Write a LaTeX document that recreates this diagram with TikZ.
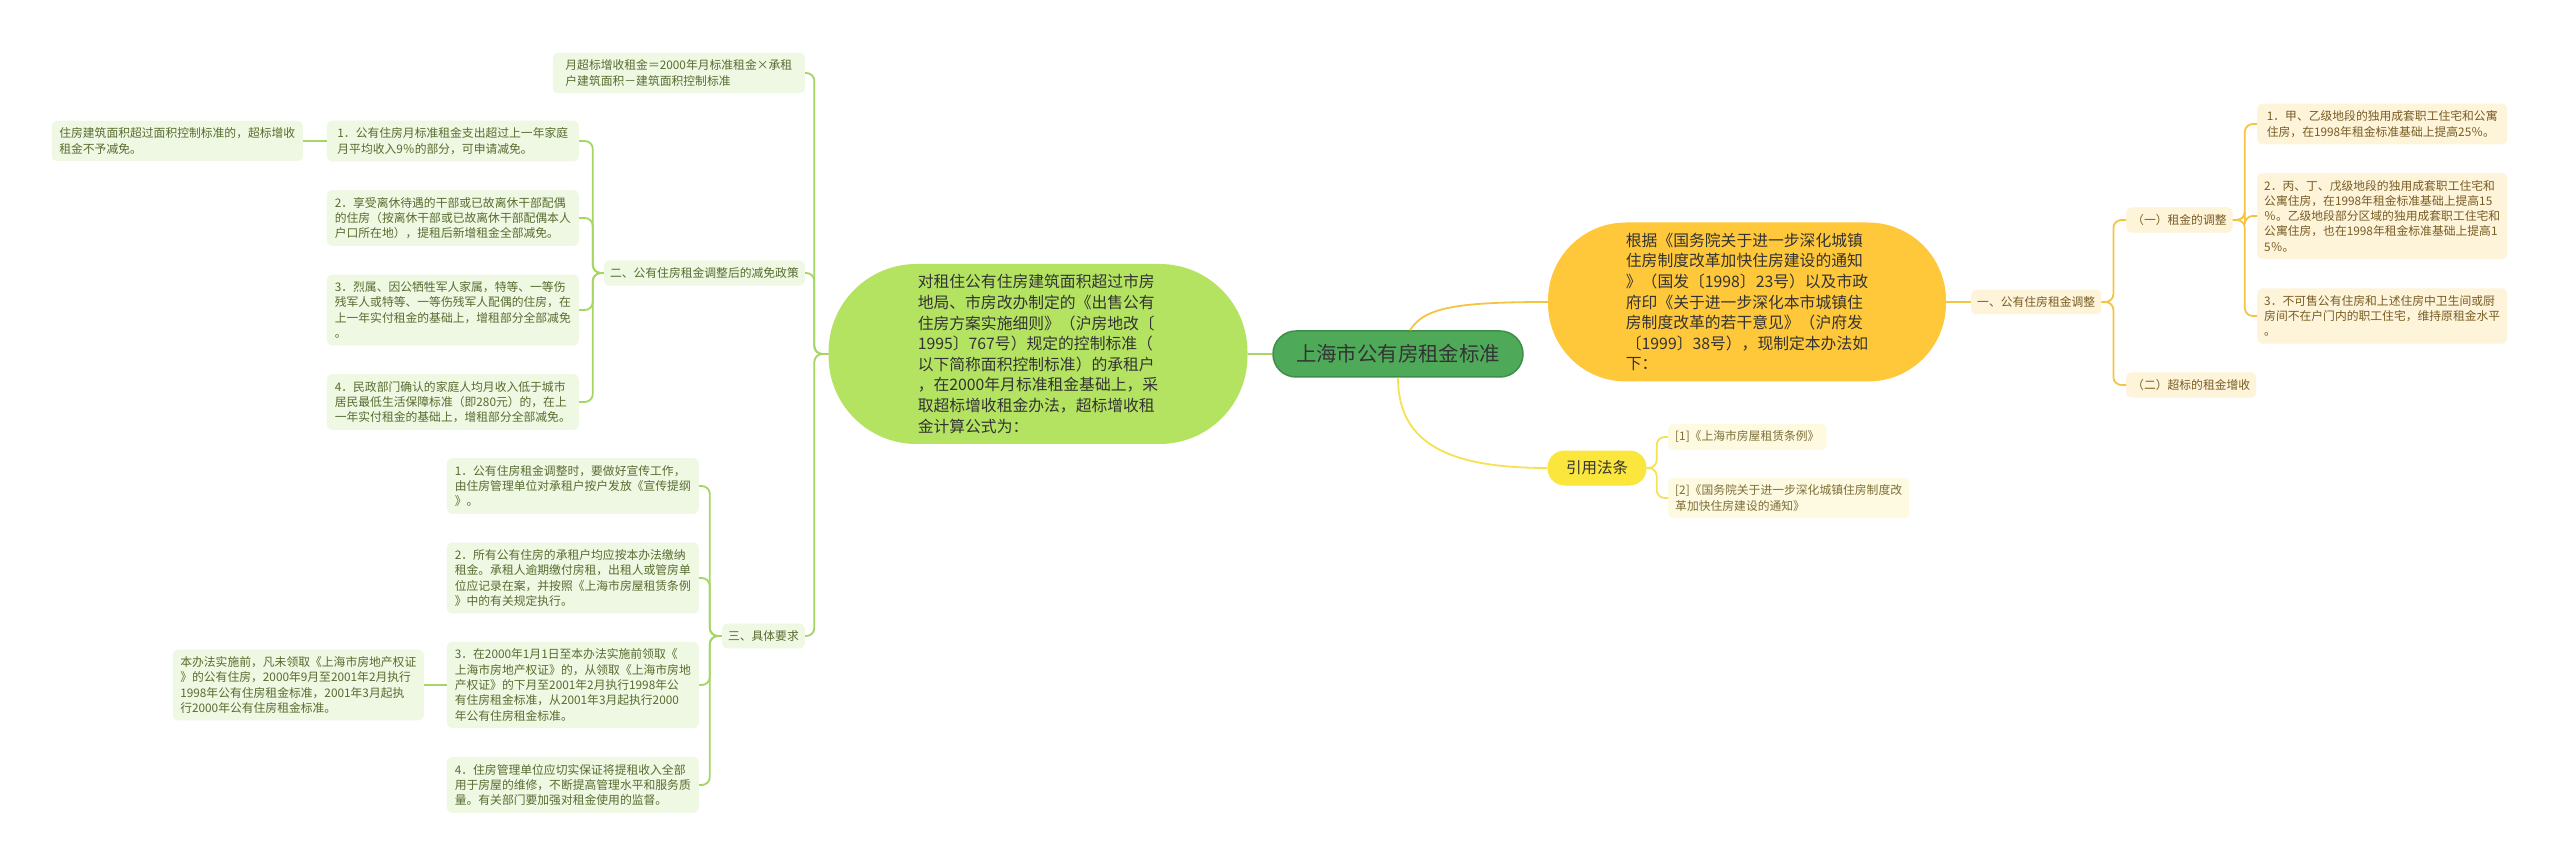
\documentclass[tikz,border=0pt]{standalone}
\usepackage{fontspec}
\setmainfont{Noto Sans CJK SC}
\definecolor{rootgreen}{RGB}{78,170,88}
\definecolor{rootedge}{RGB}{62,142,72}
\definecolor{leafgreen}{RGB}{180,227,98}
\definecolor{palegreen}{RGB}{239,248,226}
\definecolor{greentext}{RGB}{88,108,48}
\definecolor{greenline}{RGB}{165,214,100}
\definecolor{gold}{RGB}{255,200,58}
\definecolor{goldline}{RGB}{245,196,64}
\definecolor{palegold}{RGB}{254,244,218}
\definecolor{goldtext}{RGB}{120,92,36}
\definecolor{lemon}{RGB}{250,230,60}
\definecolor{lemonline}{RGB}{246,226,80}
\definecolor{palelemon}{RGB}{254,250,225}
\definecolor{lemontext}{RGB}{125,110,55}
\definecolor{darktext}{RGB}{51,51,51}

\begin{document}
\begin{tikzpicture}[x=1pt,y=1pt]
\tikzstyle{every node}+=[inner sep=0pt]
\tikzstyle{gleaf}=[fill=palegreen,text=greentext,rounded corners=5pt,align=left,inner xsep=7pt,inner ysep=7pt,font=\fontsize{11.8pt}{15.3pt}\selectfont]
\tikzstyle{oleaf}=[gleaf,fill=palegold,text=goldtext]
\tikzstyle{yleaf}=[gleaf,fill=palelemon,text=lemontext]
\tikzstyle{bigblob}=[align=left,text=darktext,font=\fontsize{15.8pt}{20.6pt}\selectfont]
\tikzstyle{gline}=[greenline,line width=1.8pt,rounded corners=8pt]
\tikzstyle{oline}=[goldline,line width=1.8pt,rounded corners=8pt]
\tikzstyle{yline}=[lemonline,line width=1.8pt,rounded corners=8pt]
\useasboundingbox (0,0) rectangle (2560,-866);
\fill [white] (0,0) rectangle (2560,-866);
\draw (1398,-354) node [fill=rootgreen,draw=rootedge,line width=1.5pt,rounded corners=23pt,minimum width=250pt,minimum height=46pt,text=darktext,font=\fontsize{20.4pt}{24pt}\selectfont] (root) {上海市公有房租金标准};
\draw (1038,-354) node [bigblob,fill=leafgreen,rounded corners=88pt,minimum width=419pt,minimum height=180pt] (excess) {对租住公有住房建筑面积超过市房\\地局、市房改办制定的《出售公有\\住房方案实施细则》（沪房地改〔\\1995〕767号）规定的控制标准（\\以下简称面积控制标准）的承租户\\，在2000年月标准租金基础上，采\\取超标增收租金办法，超标增收租\\金计算公式为：};
\draw (1747,-302) node [bigblob,fill=gold,rounded corners=78pt,minimum width=398pt,minimum height=159pt] (basis) {根据《国务院关于进一步深化城镇\\住房制度改革加快住房建设的通知\\》（国发〔1998〕23号）以及市政\\府印《关于进一步深化本市城镇住\\房制度改革的若干意见》（沪府发\\〔1999〕38号），现制定本办法如\\下：};
\draw (1597,-468) node [fill=lemon,rounded corners=17pt,minimum width=99pt,minimum height=35pt,text=darktext,font=\fontsize{15.5pt}{18pt}\selectfont] (cite) {引用法条};
\draw (1668,-437) node [yleaf,anchor=west] (citeA) {[1]《上海市房屋租赁条例》};
\draw (1668,-498) node [yleaf,anchor=west] (citeB) {[2]《国务院关于进一步深化城镇住房制度改\\革加快住房建设的通知》};
\draw (1971,-302) node [oleaf,anchor=west,inner xsep=6pt] (adjust) {一、公有住房租金调整};
\draw (2126,-220) node [oleaf,anchor=west,inner xsep=6pt] (adjustRent) {（一）租金的调整};
\draw (2126,-385) node [oleaf,anchor=west,inner xsep=6pt] (adjustExcess) {（二）超标的租金增收};
\draw (2257,-124) node [oleaf,anchor=west,minimum width=250pt] (rentA) {1．甲、乙级地段的独用成套职工住宅和公寓\\住房，在1998年租金标准基础上提高25％。};
\draw (2257,-216) node [oleaf,anchor=west,minimum width=250pt] (rentB) {2．丙、丁、戊级地段的独用成套职工住宅和\\公寓住房，在1998年租金标准基础上提高15\\％。乙级地段部分区域的独用成套职工住宅和\\公寓住房，也在1998年租金标准基础上提高1\\5％。};
\draw (2257,-316) node [oleaf,anchor=west,minimum width=250pt] (rentC) {3．不可售公有住房和上述住房中卫生间或厨\\房间不在户门内的职工住宅，维持原租金水平\\。};
\draw (805,-73) node [gleaf,anchor=east,minimum width=252pt] (formula) {月超标增收租金＝2000年月标准租金×承租\\户建筑面积－建筑面积控制标准};
\draw (805,-273) node [gleaf,anchor=east,inner xsep=6pt] (relief) {二、公有住房租金调整后的减免政策};
\draw (805,-636) node [gleaf,anchor=east,inner xsep=6pt] (demand) {三、具体要求};
\draw (579,-141) node [gleaf,anchor=east,minimum width=252pt] (reliefA) {1．公有住房月标准租金支出超过上一年家庭\\月平均收入9％的部分，可申请减免。};
\draw (579,-218) node [gleaf,anchor=east,minimum width=252pt] (reliefB) {2．享受离休待遇的干部或已故离休干部配偶\\的住房（按离休干部或已故离休干部配偶本人\\户口所在地），提租后新增租金全部减免。};
\draw (579,-310) node [gleaf,anchor=east,minimum width=252pt] (reliefC) {3．烈属、因公牺牲军人家属，特等、一等伤\\残军人或特等、一等伤残军人配偶的住房，在\\上一年实付租金的基础上，增租部分全部减免\\。};
\draw (579,-402) node [gleaf,anchor=east,minimum width=252pt] (reliefD) {4．民政部门确认的家庭人均月收入低于城市\\居民最低生活保障标准（即280元）的，在上\\一年实付租金的基础上，增租部分全部减免。};
\draw (303,-141) node [gleaf,anchor=east,minimum width=251pt] (reliefNote) {住房建筑面积超过面积控制标准的，超标增收\\租金不予减免。};
\draw (699,-486) node [gleaf,anchor=east,minimum width=252pt] (demandA) {1．公有住房租金调整时，要做好宣传工作，\\由住房管理单位对承租户按户发放《宣传提纲\\》。};
\draw (699,-578) node [gleaf,anchor=east,minimum width=252pt] (demandB) {2．所有公有住房的承租户均应按本办法缴纳\\租金。承租人逾期缴付房租，出租人或管房单\\位应记录在案，并按照《上海市房屋租赁条例\\》中的有关规定执行。};
\draw (699,-685) node [gleaf,anchor=east,minimum width=252pt] (demandC) {3．在2000年1月1日至本办法实施前领取《\\上海市房地产权证》的，从领取《上海市房地\\产权证》的下月至2001年2月执行1998年公\\有住房租金标准，从2001年3月起执行2000\\年公有住房租金标准。};
\draw (699,-785) node [gleaf,anchor=east,minimum width=252pt] (demandD) {4．住房管理单位应切实保证将提租收入全部\\用于房屋的维修，不断提高管理水平和服务质\\量。有关部门要加强对租金使用的监督。};
\draw (424,-685) node [gleaf,anchor=east,minimum width=251pt] (demandNote) {本办法实施前，凡未领取《上海市房地产权证\\》的公有住房，2000年9月至2001年2月执行\\1998年公有住房租金标准，2001年3月起执\\行2000年公有住房租金标准。};
\draw [gline] (excess.east) -- (root.west);
\draw [oline,rounded corners=0pt] ([xshift=12pt]root.north) .. controls +(14,22) and +(-95,0) .. (basis.west);
\draw [yline,rounded corners=0pt] (root.south) .. controls +(0,-68) and +(-95,0) .. (cite.west);
\draw [yline] (cite.east) -- ++(10,0) |- (citeA.west);
\draw [yline] (cite.east) -- ++(10,0) |- (citeB.west);
\draw [oline] (basis.east) -- (adjust.west);
\draw [oline] (adjust.east) -- ++(12,0) |- (adjustRent.west);
\draw [oline] (adjust.east) -- ++(12,0) |- (adjustExcess.west);
\draw [oline] (adjustRent.east) -- ++(12,0) |- (rentA.west);
\draw [oline] (adjustRent.east) -- ++(12,0) |- (rentB.west);
\draw [oline] (adjustRent.east) -- ++(12,0) |- (rentC.west);
\draw [gline] (excess.west) -- ++(-14,0) |- (formula.east);
\draw [gline] (excess.west) -- ++(-14,0) |- (relief.east);
\draw [gline] (excess.west) -- ++(-14,0) |- (demand.east);
\draw [gline] (relief.west) -- ++(-11,0) |- (reliefA.east);
\draw [gline] (relief.west) -- ++(-11,0) |- (reliefB.east);
\draw [gline] (relief.west) -- ++(-11,0) |- (reliefC.east);
\draw [gline] (relief.west) -- ++(-11,0) |- (reliefD.east);
\draw [gline] (reliefA.west) -- (reliefNote.east);
\draw [gline] (demand.west) -- ++(-12,0) |- (demandA.east);
\draw [gline] (demand.west) -- ++(-12,0) |- (demandB.east);
\draw [gline] (demand.west) -- ++(-12,0) |- (demandC.east);
\draw [gline] (demand.west) -- ++(-12,0) |- (demandD.east);
\draw [gline] (demandC.west) -- (demandNote.east);
\end{tikzpicture}
\end{document}
